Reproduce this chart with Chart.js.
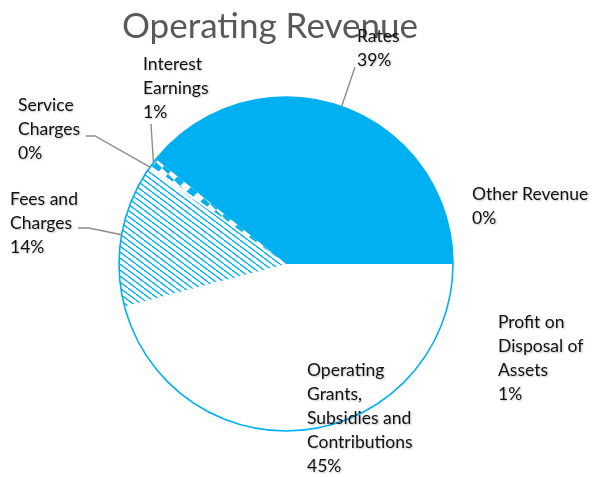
<!DOCTYPE html>
<html>
<head>
<meta charset="utf-8">
<script src="https://cdn.jsdelivr.net/npm/chart.js@4.4.0/dist/chart.umd.min.js"></script>
<style>
  html, body { margin: 0; padding: 0; background: #fff; }
  canvas { display: block; }
</style>
</head>
<body>
<canvas id="myChart" width="592" height="477"></canvas>
<script>
// data
const categories = ['Rates', 'Other Revenue', 'Profit on Disposal of Assets',
  'Operating Grants, Subsidies and Contributions', 'Fees and Charges',
  'Service Charges', 'Interest Earnings'];
const shares = [39.2, 0.2, 0.8, 44.9, 13.8, 0.3, 0.8];

const BLUE = '#00b0f0';

// label placement (x, centre of first line, wrapped lines, leader start points)
const labelLayout = [
  { x: 357, y: 36, lines: ['Rates'], leader: [[355, 67]] },
  { x: 472, y: 194, lines: ['Other Revenue'] },
  { x: 498, y: 322, lines: ['Profit on', 'Disposal of', 'Assets'] },
  { x: 307, y: 370, lines: ['Operating', 'Grants,', 'Subsidies and', 'Contributions'] },
  { x: 10, y: 199, lines: ['Fees and', 'Charges'], leader: [[78, 228], [89, 228]] },
  { x: 18, y: 105, lines: ['Service', 'Charges'], leader: [[86, 136], [95, 136]] },
  { x: 143, y: 64, lines: ['Interest', 'Earnings'], leader: [[151, 124]] }
];

function hatch() {
  const c = document.createElement('canvas');
  c.width = 8; c.height = 6;
  const g = c.getContext('2d');
  g.fillStyle = '#fff';
  g.fillRect(0, 0, 8, 6);
  g.strokeStyle = BLUE;
  g.lineWidth = 1.4;
  [-8, 0, 8].forEach(o => {
    g.beginPath();
    g.moveTo(o, 0);
    g.lineTo(o + 8, 6);
    g.stroke();
  });
  return g.createPattern(c, 'repeat');
}

function checker() {
  const c = document.createElement('canvas');
  c.width = 12; c.height = 12;
  const g = c.getContext('2d');
  g.fillStyle = BLUE;
  g.fillRect(0, 0, 12, 12);
  g.fillStyle = '#fff';
  g.beginPath();
  g.moveTo(6, 0); g.lineTo(12, 6); g.lineTo(6, 12); g.lineTo(0, 6);
  g.closePath();
  g.fill();
  return g.createPattern(c, 'repeat');
}

const fills = [BLUE, '#fff', '#fff', '#fff', hatch(), '#fff', checker()];

const total = shares.reduce((a, b) => a + b, 0);

const extras = {
  id: 'extras',
  afterDatasetsDraw(chart) {
    const arc = chart.getDatasetMeta(0).data[0];
    const ctx = chart.ctx;
    ctx.save();
    ctx.strokeStyle = BLUE;
    ctx.lineWidth = 1.6;
    ctx.beginPath();
    ctx.arc(arc.x, arc.y, arc.outerRadius, 0, Math.PI * 2);
    ctx.stroke();
    ctx.restore();
  },
  afterDraw(chart) {
    const ctx = chart.ctx;
    const meta = chart.getDatasetMeta(0);
    ctx.save();
    // title
    ctx.font = '35px Lato';
    ctx.fillStyle = '#595959';
    ctx.textAlign = 'center';
    ctx.textBaseline = 'alphabetic';
    ctx.fillText('Operating Revenue', 270, 38);

    // leader lines
    ctx.strokeStyle = '#8c8c8c';
    ctx.lineWidth = 1.4;
    labelLayout.forEach((l, i) => {
      if (!l.leader) return;
      const a = meta.data[i];
      const mid = (a.startAngle + a.endAngle) / 2;
      ctx.beginPath();
      ctx.moveTo(l.leader[0][0], l.leader[0][1]);
      l.leader.slice(1).forEach(p => ctx.lineTo(p[0], p[1]));
      ctx.lineTo(a.x + a.outerRadius * Math.cos(mid), a.y + a.outerRadius * Math.sin(mid));
      ctx.stroke();
    });

    // labels
    ctx.font = '17.5px Lato';
    ctx.fillStyle = '#111';
    ctx.textAlign = 'left';
    ctx.textBaseline = 'middle';
    ctx.shadowColor = 'rgba(0,0,0,0.25)';
    ctx.shadowBlur = 2;
    ctx.shadowOffsetX = 1;
    ctx.shadowOffsetY = 1;
    labelLayout.forEach((l, i) => {
      const pct = Math.round(shares[i] / total * 100) + '%';
      const lines = l.lines.concat([pct]);
      lines.forEach((t, k) => ctx.fillText(t, l.x, l.y + k * 24));
    });
    ctx.restore();
  }
};

const ctx = document.getElementById('myChart').getContext('2d');
const myChart = new Chart(ctx, {
  type: 'pie',
  data: {
    labels: categories,
    datasets: [{
      data: shares,
      backgroundColor: fills,
      borderWidth: 0
    }]
  },
  options: {
    responsive: false,
    animation: false,
    rotation: -51.1,
    layout: { padding: { left: 119, right: 139, top: 97, bottom: 46 } },
    plugins: {
      legend: { display: false },
      tooltip: { enabled: false },
      title: { display: false }
    }
  },
  plugins: [extras]
});
</script>
</body>
</html>
